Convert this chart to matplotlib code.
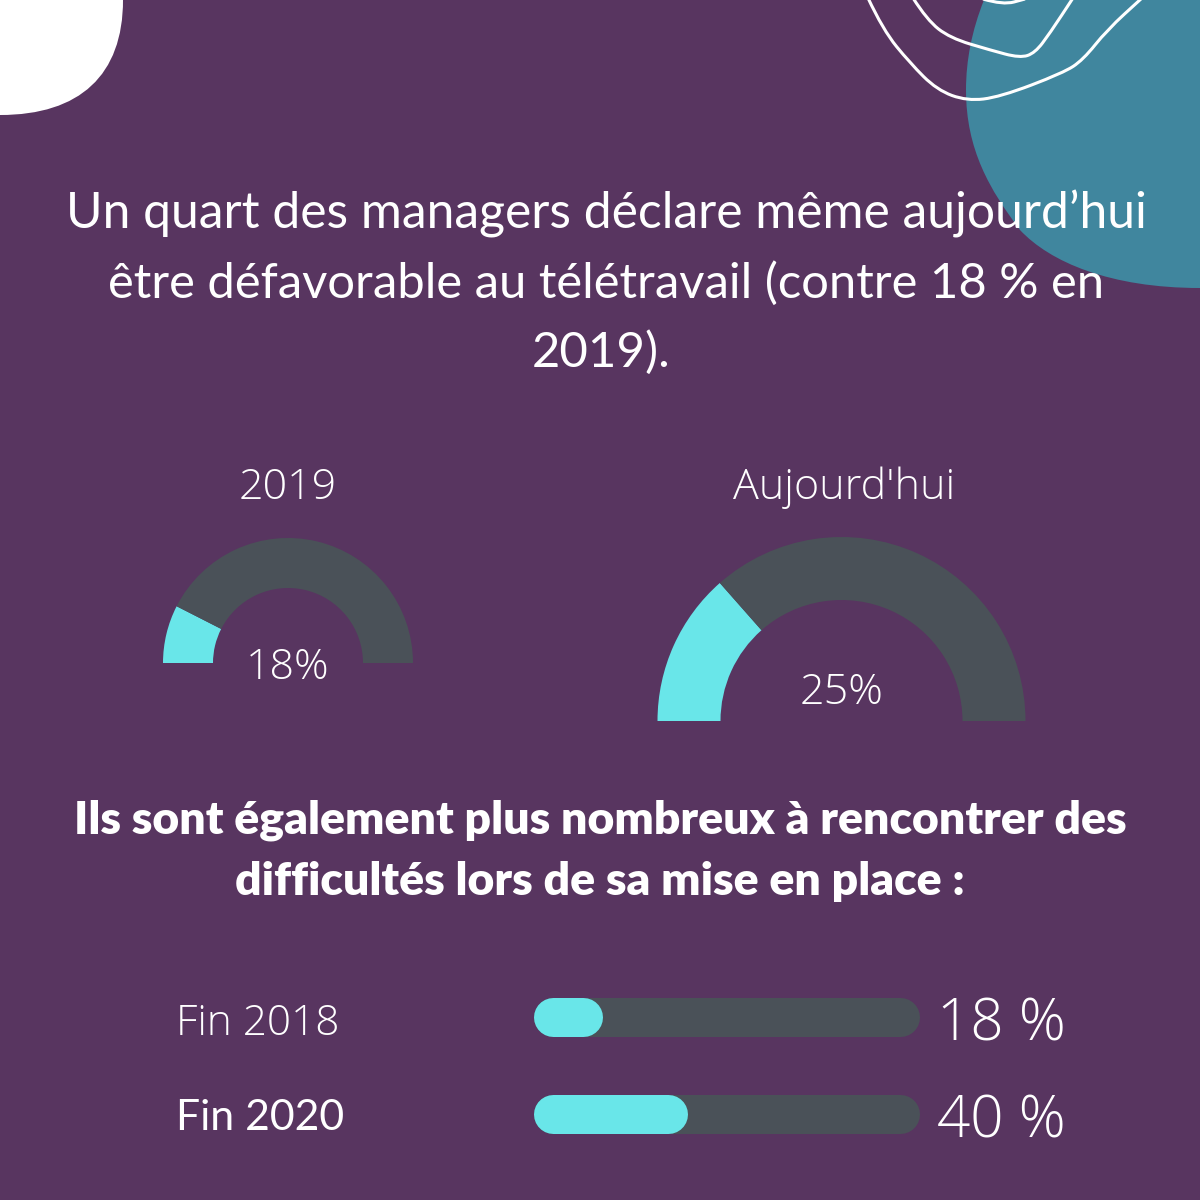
import matplotlib
matplotlib.use("Agg")
import matplotlib.pyplot as plt
from matplotlib.patches import PathPatch
from matplotlib.path import Path

BG = "#583560"
TEAL = "#40869e"
CYAN = "#69e6e9"
GREY = "#4a5158"
DPI = 100

title_lines = [
    "Un quart des managers déclare même aujourd’hui",
    "être défavorable au télétravail (contre 18 % en",
    "2019).",
]
sub_lines = [
    "Ils sont également plus nombreux à rencontrer des",
    "difficultés lors de sa mise en place :",
]

# jauges : part remplie, libellé affiché à côté
gauge_titles = ["2019", "Aujourd'hui"]
gauge_labels = ["18%", "25%"]
gauge_fill = [15, 27]

bar_names = ["Fin 2018", "Fin 2020"]
bar_values = [18, 40]
bar_labels = ["18 %", "40 %"]


def smooth(points):
    # courbe lissée : quadratiques passant par les milieux des points
    verts = [points[0]]
    codes = [Path.MOVETO]
    for p, q in zip(points[1:-1], points[2:]):
        verts += [p, ((p[0] + q[0]) / 2, (p[1] + q[1]) / 2)]
        codes += [Path.CURVE3, Path.CURVE3]
    verts += [points[-1], points[-1]]
    codes += [Path.CURVE3, Path.CURVE3]
    return Path(verts, codes)


fig = plt.figure(figsize=(12, 12), dpi=DPI, facecolor=BG)
ax = fig.add_axes([0, 0, 1, 1])
ax.set_xlim(0, 1200)
ax.set_ylim(1200, 0)
ax.axis("off")

# formes du décor
corner = Path(
    [(0, 0), (123, 0), (123, 75), (80, 115), (0, 115), (0, 115), (0, 0)],
    [Path.MOVETO, Path.LINETO, Path.CURVE4, Path.CURVE4, Path.CURVE4, Path.LINETO, Path.CLOSEPOLY],
)
ax.add_patch(PathPatch(corner, fc="white", ec="none"))

blob = Path(
    [(984, 0), (972, 30), (966, 60), (966, 90), (966, 150), (990, 190), (1020, 230),
     (1050, 262), (1110, 288), (1200, 288), (1200, 0), (984, 0)],
    [Path.MOVETO, Path.CURVE4, Path.CURVE4, Path.CURVE4, Path.CURVE4, Path.CURVE4, Path.CURVE4,
     Path.CURVE4, Path.CURVE4, Path.CURVE4, Path.LINETO, Path.CLOSEPOLY],
)
ax.add_patch(PathPatch(blob, fc=TEAL, ec="none"))

outer_line = [(868, -2), (883, 30), (910, 63), (937, 90), (967, 101), (1000, 97),
              (1063, 73), (1083, 60), (1107, 30), (1142, -2)]
inner_line = [(913, -2), (927, 20), (950, 38), (990, 50), (1020, 58), (1035, 53),
              (1050, 33), (1073, -2)]
top_line = [(983, -1), (1003, 5), (1025, -1)]
for line in (outer_line, inner_line, top_line):
    ax.add_patch(PathPatch(smooth(line), fc="none", ec="white", lw=2.2))

# textes
title_x = [606, 606, 601]
title_size = [35.8, 35.3, 35.3]
for x, y, size, line in zip(title_x, [214, 283, 352], title_size, title_lines):
    ax.text(x, y, line, color="white", fontsize=size, family="Lato", weight="normal",
            ha="center", va="center")
for y, line in zip([820, 881], sub_lines):
    ax.text(600, y, line, color="white", fontsize=33.4, family="Lato", weight="heavy",
            ha="center", va="center")

# jauges
gauge_cx = [288, 841.5]
gauge_cy = [663, 721]
gauge_r = [125, 184]
gauge_w = [50, 63]
gauge_title_x = [288, 844]
gauge_label_y = [668, 693]
for i in range(2):
    cx, cy, r = gauge_cx[i], gauge_cy[i], gauge_r[i]
    sub = fig.add_axes([(cx - r) / 1200, 1 - (cy + r) / 1200, 2 * r / 1200, 2 * r / 1200])
    sub.pie([gauge_fill[i], 100 - gauge_fill[i], 100], colors=[CYAN, GREY, "none"],
            startangle=180, counterclock=False, radius=1,
            wedgeprops={"width": gauge_w[i] / r, "linewidth": 0})
    sub.set_xlim(-1, 1)
    sub.set_ylim(-1, 1)
    sub.patch.set_alpha(0)
    ax.text(gauge_title_x[i], 488, gauge_titles[i], color="white", fontsize=31,
            family="Open Sans", weight="light", ha="center", va="center")
    ax.text(cx, gauge_label_y[i], gauge_labels[i], color="white", fontsize=31,
            family="Open Sans", weight="light", ha="center", va="center")

# barres : trait à bouts ronds, le bout arrive sur la valeur
bar_x = 533
bar_w = 386
bar_h = 39
bar_y = [1017, 1114]
name_family = ["Open Sans", "Lato"]
name_weight = ["light", "normal"]
name_size = [30.5, 30.8]
name_y = [1024, 1118]
label_y = [1025, 1122]
lw = bar_h * 72 / DPI
for i in range(2):
    y = bar_y[i]
    for width, color in [(bar_w, GREY), (bar_w * bar_values[i] / 100, CYAN)]:
        ax.plot([bar_x + bar_h / 2, bar_x + width - bar_h / 2], [y, y], color=color, lw=lw,
                solid_capstyle="round")
    ax.text(176, name_y[i], bar_names[i], color="white", fontsize=name_size[i],
            family=name_family[i], weight=name_weight[i], ha="left", va="center")
    ax.text(1066, label_y[i], bar_labels[i], color="white", fontsize=42, family="Open Sans",
            weight="light", ha="right", va="center")

fig.savefig("out.png", dpi=DPI, facecolor=BG)
